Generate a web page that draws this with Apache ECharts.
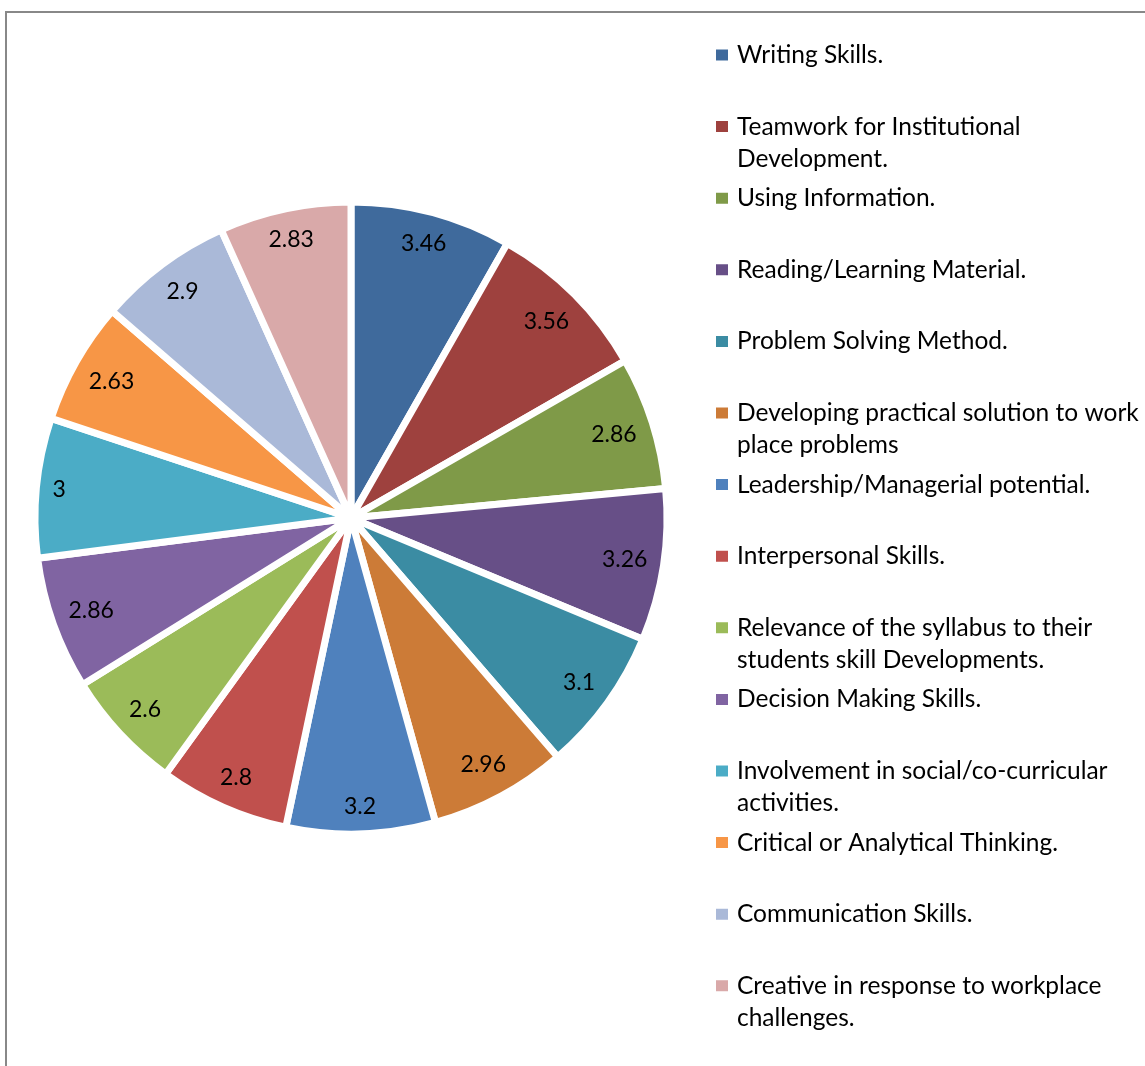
<!DOCTYPE html>
<html>
<head>
<meta charset="utf-8">
<script src="https://cdn.jsdelivr.net/npm/echarts@6/dist/echarts.min.js"></script>
<style>
html,body{margin:0;padding:0;background:#fff;}
#chart{width:1145px;height:1066px;}
</style>
</head>
<body>
<div id="chart"></div>
<script>
const categories = [
  'Writing Skills.',
  'Teamwork for Institutional Development.',
  'Using Information.',
  'Reading/Learning Material.',
  'Problem Solving Method.',
  'Developing practical solution to work place problems',
  'Leadership/Managerial potential.',
  'Interpersonal Skills.',
  'Relevance of the syllabus to their students skill Developments.',
  'Decision Making Skills.',
  'Involvement in social/co-curricular activities.',
  'Critical or Analytical Thinking.',
  'Communication Skills.',
  'Creative in response to workplace challenges.'
];
const legendText = [
  'Writing Skills.',
  'Teamwork for Institutional\nDevelopment.',
  'Using Information.',
  'Reading/Learning Material.',
  'Problem Solving Method.',
  'Developing practical solution to work\nplace problems',
  'Leadership/Managerial potential.',
  'Interpersonal Skills.',
  'Relevance of the syllabus to their\nstudents skill Developments.',
  'Decision Making Skills.',
  'Involvement in social/co-curricular\nactivities.',
  'Critical or Analytical Thinking.',
  'Communication Skills.',
  'Creative in response to workplace\nchallenges.'
];
const values = [3.46, 3.56, 2.86, 3.26, 3.1, 2.96, 3.2, 2.8, 2.6, 2.86, 3, 2.63, 2.9, 2.83];
const colors = [
  '#3f6a9c', '#9e413e', '#7f9a48', '#674f87', '#3b8ca3', '#cc7b37',
  '#4f81bd', '#c0504d', '#9bbb59', '#8064a2', '#4bacc6', '#f79646',
  '#aab9d8', '#d9a9a9'
];

const CX = 351, CY = 518, R = 316, LABEL_EDGE = 301;
const FONT = 'Lato';

const chart = echarts.init(document.getElementById('chart'), null, {renderer: 'canvas'});

const option = {
  animation: false,
  color: colors,
  graphic: [{
    type: 'rect',
    shape: {x: 6, y: 12, width: 2000, height: 2000},
    style: {fill: 'none', stroke: '#888888', lineWidth: 2},
    silent: true
  }],
  legend: {
    orient: 'vertical',
    left: 714,
    top: 7,
    padding: 0,
    itemWidth: 14,
    itemHeight: 13,
    itemGap: -24.4,
    icon: 'rect',
    selectedMode: false,
    data: categories,
    formatter: function (name) {
      const t = legendText[categories.indexOf(name)];
      return ' \n' + (t.indexOf('\n') >= 0 ? t : t + '\n ');
    },
    textStyle: {
      fontFamily: FONT,
      fontSize: 24.5,
      color: '#000',
      lineHeight: 32,
      padding: [0, 0, 0, 3]
    }
  },
  series: [{
    type: 'pie',
    center: [CX, CY],
    radius: [0, R],
    startAngle: 90,
    clockwise: true,
    avoidLabelOverlap: false,
    itemStyle: {borderColor: '#ffffff', borderWidth: 7},
    label: {
      show: true,
      position: 'inside',
      fontFamily: FONT,
      fontSize: 23,
      color: '#000',
      formatter: function (p) { return String(p.value); }
    },
    labelLine: {show: false},
    emphasis: {disabled: true},
    labelLayout: function (p) {
      const r = p.labelRect;
      const cx = r.x + r.width / 2, cy = r.y + r.height / 2;
      const a = Math.atan2(cy - CY, cx - CX);
      const ext = Math.abs(Math.cos(a)) * r.width / 2 + Math.abs(Math.sin(a)) * r.height / 2;
      const d = LABEL_EDGE - ext;
      return {x: CX + d * Math.cos(a), y: CY + d * Math.sin(a)};
    },
    data: categories.map(function (n, i) { return {name: n, value: values[i]}; })
  }]
};
chart.setOption(option);
</script>
</body>
</html>
